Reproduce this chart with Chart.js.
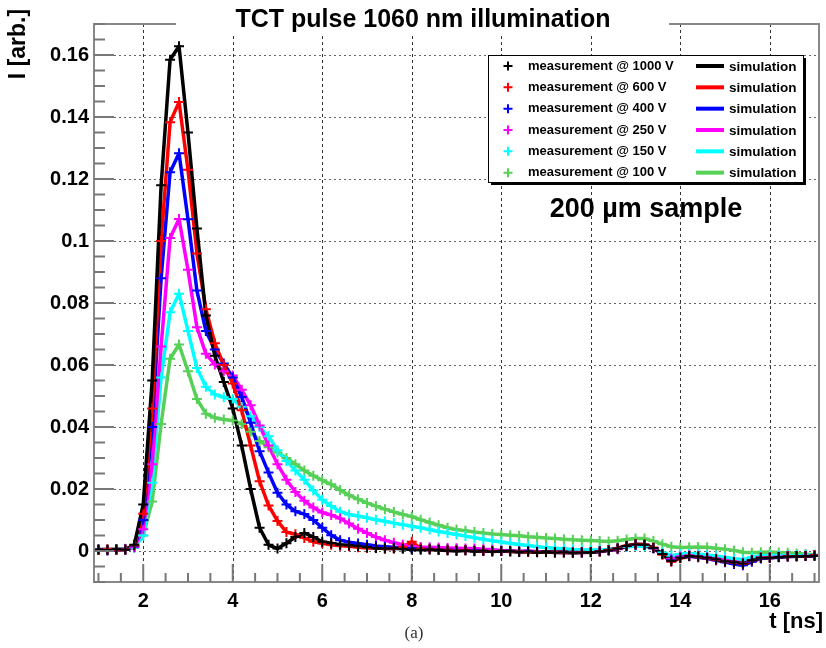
<!DOCTYPE html>
<html>
<head>
<meta charset="utf-8">
<script src="https://cdn.jsdelivr.net/npm/chart.js@4/dist/chart.umd.min.js"></script>
<style>
html,body{margin:0;padding:0;background:#fff;}
#wrap{position:relative;width:826px;height:648px;}
</style>
</head>
<body>
<div id="wrap"><canvas id="c" width="826" height="648"></canvas></div>
<script>
// ---- data ----
const times = [
  1.0,1.2,1.4,1.6,1.8, 2.0,2.2,2.4,2.6,2.8, 3.0,3.2,3.4,3.6,3.8, 4.0,4.2,4.4,4.6,4.8,
  5.0,5.2,5.4,5.6,5.8, 6.0,6.2,6.4,6.6,6.8, 7.0,7.2,7.4,7.6,7.8, 8.0,8.2,8.4,8.6,8.8,
  9.0,9.2,9.4,9.6,9.8, 10.0,10.2,10.4,10.6,10.8, 11.0,11.2,11.4,11.6,11.8, 12.0,12.2,12.4,12.6,12.8,
  13.0,13.2,13.4,13.6,13.8, 14.0,14.2,14.4,14.6,14.8, 15.0,15.2,15.4,15.6,15.8, 16.0,16.2,16.4,16.6,16.8, 17.0
];
const v1000 = [
  0.0005,0.0003,0.0006,0.0004,0.0020, 0.0150,0.0550,0.1180,0.1585,0.1628,
  0.1350,0.1040,0.0760,0.0630,0.0545, 0.0460,0.0340,0.0200,0.0075,0.0020,
  0.0008,0.0025,0.0045,0.0058,0.0045, 0.0030,0.0025,0.0020,0.0018,0.0015,
  0.0012,0.0010,0.0008,0.0009,0.0007, 0.0005,0.0004,0.0005,0.0003,0.0002,
  0.0000,0.0002,-0.0001,0.0001,-0.0002, 0.0000,-0.0001,-0.0003,-0.0002,-0.0004,
  -0.0003,-0.0005,-0.0004,-0.0006,-0.0005, -0.0004,-0.0002,0.0002,0.0008,0.0016,
  0.0021,0.0020,0.0010,-0.0010,-0.0032, -0.0022,-0.0016,-0.0018,-0.0022,-0.0027,
  -0.0033,-0.0036,-0.0040,-0.0030,-0.0022, -0.0022,-0.0019,-0.0018,-0.0017,-0.0016, -0.0015
];
const v600 = [
  0.0003,0.0006,0.0004,0.0005,0.0018, 0.0120,0.0460,0.1000,0.1383,0.1448,
  0.1230,0.0960,0.0780,0.0670,0.0600, 0.0540,0.0454,0.0340,0.0225,0.0147,
  0.0097,0.0061,0.0054,0.0042,0.0030, 0.0025,0.0020,0.0017,0.0015,0.0012,
  0.0010,0.0010,0.0008,0.0008,0.0012, 0.0030,0.0008,0.0006,0.0005,0.0004,
  0.0002,0.0003,0.0000,0.0001,-0.0001, 0.0000,-0.0002,-0.0002,-0.0003,-0.0003,
  -0.0004,-0.0004,-0.0005,-0.0005,-0.0004, -0.0003,-0.0001,0.0003,0.0009,0.0017,
  0.0022,0.0021,0.0011,-0.0012,-0.0035, -0.0023,-0.0016,-0.0019,-0.0023,-0.0028,
  -0.0034,-0.0038,-0.0042,-0.0031,-0.0022, -0.0021,-0.0019,-0.0017,-0.0017,-0.0016, -0.0014
];
const v400 = [
  0.0004,0.0002,0.0005,0.0006,0.0015, 0.0100,0.0400,0.0880,0.1222,0.1283,
  0.1070,0.0840,0.0710,0.0650,0.0605, 0.0560,0.0497,0.0414,0.0322,0.0253,
  0.0188,0.0150,0.0128,0.0119,0.0100, 0.0075,0.0051,0.0035,0.0028,0.0024,
  0.0020,0.0016,0.0014,0.0012,0.0010, 0.0010,0.0008,0.0007,0.0006,0.0005,
  0.0004,0.0003,0.0002,0.0001,0.0000, 0.0000,-0.0001,-0.0002,-0.0002,-0.0003,
  -0.0003,-0.0004,-0.0004,-0.0005,-0.0004, -0.0003,-0.0001,0.0003,0.0008,0.0016,
  0.0021,0.0020,0.0010,-0.0010,-0.0030, -0.0022,-0.0017,-0.0020,-0.0024,-0.0030,
  -0.0036,-0.0042,-0.0046,-0.0035,-0.0024, -0.0022,-0.0020,-0.0018,-0.0017,-0.0016, -0.0015
];
const v250 = [
  0.0005,0.0004,0.0003,0.0006,0.0012, 0.0070,0.0280,0.0660,0.1010,0.1071,
  0.0907,0.0722,0.0636,0.0602,0.0580, 0.0566,0.0520,0.0470,0.0405,0.0340,
  0.0280,0.0230,0.0190,0.0162,0.0140, 0.0124,0.0116,0.0105,0.0089,0.0072,
  0.0058,0.0045,0.0035,0.0027,0.0020, 0.0016,0.0013,0.0012,0.0011,0.0010,
  0.0009,0.0008,0.0008,0.0006,0.0004, 0.0002,0.0001,-0.0002,0.0000,-0.0002,
  -0.0003,-0.0004,-0.0005,-0.0004,-0.0005, -0.0003,-0.0002,0.0002,0.0006,0.0015,
  0.0020,0.0019,0.0008,-0.0010,-0.0025, -0.0018,-0.0014,-0.0017,-0.0020,-0.0025,
  -0.0030,-0.0035,-0.0038,-0.0030,-0.0020, -0.0020,-0.0018,-0.0016,-0.0016,-0.0015, -0.0014
];
const v150 = [
  0.0004,0.0006,0.0003,0.0005,0.0010, 0.0050,0.0220,0.0560,0.0770,0.0830,
  0.0710,0.0590,0.0530,0.0505,0.0496, 0.0490,0.0465,0.0435,0.0400,0.0370,
  0.0325,0.0290,0.0260,0.0230,0.0195, 0.0165,0.0145,0.0127,0.0118,0.0113,
  0.0107,0.0101,0.0096,0.0090,0.0085, 0.0080,0.0075,0.0069,0.0063,0.0058,
  0.0053,0.0048,0.0043,0.0038,0.0033, 0.0029,0.0025,0.0021,0.0018,0.0014,
  0.0011,0.0009,0.0007,0.0005,0.0004, 0.0003,0.0004,0.0005,0.0009,0.0013,
  0.0016,0.0015,0.0008,-0.0005,-0.0015, -0.0010,-0.0008,-0.0010,-0.0013,-0.0016,
  -0.0020,-0.0025,-0.0028,-0.0020,-0.0015, -0.0015,-0.0014,-0.0013,-0.0013,-0.0012, -0.0012
];
const v100 = [
  0.0004,0.0006,0.0003,0.0007,0.0018, 0.0050,0.0160,0.0410,0.0620,0.0666,
  0.0580,0.0490,0.0443,0.0430,0.0424, 0.0421,0.0410,0.0385,0.0355,0.0335,
  0.0318,0.0300,0.0280,0.0260,0.0243, 0.0228,0.0215,0.0197,0.0180,0.0167,
  0.0155,0.0145,0.0135,0.0126,0.0118, 0.0111,0.0101,0.0092,0.0083,0.0075,
  0.0069,0.0065,0.0061,0.0058,0.0055, 0.0053,0.0051,0.0049,0.0046,0.0044,
  0.0042,0.0040,0.0038,0.0036,0.0035, 0.0034,0.0032,0.0031,0.0033,0.0037,
  0.0040,0.0040,0.0032,0.0022,0.0014, 0.0011,0.0012,0.0013,0.0012,0.0009,
  0.0006,0.0002,-0.0004,-0.0006,-0.0004, -0.0003,-0.0005,-0.0006,-0.0008,-0.0010, -0.0012
];
const seriesValues = [v1000, v600, v400, v250, v150, v100];
const seriesLabels = ['measurement @ 1000 V','measurement @ 600 V','measurement @ 400 V',
                      'measurement @ 250 V','measurement @ 150 V','measurement @ 100 V'];
const simLabel = 'simulation';
const xTickValues = [2,4,6,8,10,12,14,16];
const yTickValues = [0,0.02,0.04,0.06,0.08,0.1,0.12,0.14,0.16];
const titleText = 'TCT pulse 1060 nm illumination';
const yTitle = 'I [arb.]';
const xTitle = 't [ns]';
const sampleText = '200 µm sample';
const captionText = '(a)';

// ---- styles ----
const colors = ['#000000','#ff0000','#0000ff','#ff00ff','#00ffff','#57d057'];
const FONT = '"Liberation Sans", Arial, Helvetica, sans-serif';

const datasets = [];
seriesValues.forEach((vals, k) => {
  datasets.push({
    label: seriesLabels[k],
    data: times.map((t, i) => ({x: t, y: vals[i]})),
    showLine: false,
    pointStyle: 'cross',
    pointRadius: 5,
    pointBorderWidth: 2,
    pointBorderColor: colors[k],
    pointBackgroundColor: colors[k],
    borderColor: colors[k]
  });
});
seriesValues.forEach((vals, k) => {
  datasets.push({
    label: simLabel,
    data: times.map((t, i) => ({x: t, y: vals[i]})),
    showLine: true,
    borderColor: colors[k],
    borderWidth: 3.5,
    borderJoinStyle: 'round',
    pointRadius: 0,
    tension: 0,
    fill: false
  });
});

const decor = {
  id: 'decor',
  beforeDatasetsDraw(chart) {
    const {ctx, chartArea: a, scales: {x, y}} = chart;
    ctx.save();
    ctx.lineWidth = 1;
    ctx.strokeStyle = '#333';
    ctx.setLineDash([3, 3]);
    xTickValues.forEach(v => {
      const px = Math.round(x.getPixelForValue(v)) + 0.5;
      ctx.beginPath(); ctx.moveTo(px, a.top); ctx.lineTo(px, a.bottom); ctx.stroke();
    });
    ctx.strokeStyle = '#666';
    ctx.setLineDash([2, 3]);
    yTickValues.forEach(v => {
      const py = Math.round(y.getPixelForValue(v)) + 0.5;
      ctx.beginPath(); ctx.moveTo(a.left, py); ctx.lineTo(a.right, py); ctx.stroke();
    });
    ctx.restore();
  },
  afterDatasetsDraw(chart) {
    const {ctx, chartArea: a, scales: {x, y}} = chart;
    ctx.save();
    ctx.setLineDash([]);
    ctx.strokeStyle = '#888';
    ctx.lineWidth = 2;
    ctx.beginPath();
    ctx.moveTo(a.left, a.top); ctx.lineTo(a.right, a.top); ctx.lineTo(a.right, a.bottom);
    ctx.lineTo(a.left, a.bottom); ctx.closePath(); ctx.stroke();
    ctx.strokeStyle = '#777';
    ctx.lineWidth = 2;
    for (let v = 1.0; v <= 17.001; v += 0.5) {
      const major = xTickValues.some(t => Math.abs(t - v) < 1e-6);
      const px = x.getPixelForValue(v);
      ctx.beginPath(); ctx.moveTo(px, a.bottom); ctx.lineTo(px, a.bottom - (major ? 18 : 9)); ctx.stroke();
    }
    for (let i = -2; i <= 34; i++) {
      const v = i * 0.005;
      const major = (i % 4 === 0);
      const py = y.getPixelForValue(v);
      if (py < a.top || py > a.bottom) continue;
      ctx.beginPath(); ctx.moveTo(a.left, py); ctx.lineTo(a.left + (major ? 20 : 11), py); ctx.stroke();
    }
    // title box
    ctx.fillStyle = '#fff';
    ctx.fillRect(176, 0, 493, 33);
    ctx.fillStyle = '#000';
    ctx.font = 'bold 25px ' + FONT;
    ctx.textAlign = 'center';
    ctx.textBaseline = 'middle';
    ctx.fillText(titleText, 423, 20);
    // y title
    ctx.save();
    ctx.translate(19, 44);
    ctx.rotate(-Math.PI / 2);
    ctx.font = 'bold 23px ' + FONT;
    ctx.textAlign = 'center';
    ctx.textBaseline = 'middle';
    ctx.fillText(yTitle, 0, 0);
    ctx.restore();
    // x title
    ctx.font = 'bold 22px ' + FONT;
    ctx.textAlign = 'right';
    ctx.textBaseline = 'middle';
    ctx.fillText(xTitle, 823, 622);
    // caption
    ctx.font = '17px "Liberation Serif", "Times New Roman", serif';
    ctx.fillStyle = '#333';
    ctx.textAlign = 'center';
    ctx.fillText(captionText, 414, 634);
    // sample label
    ctx.fillStyle = '#000';
    ctx.font = 'bold 27px ' + FONT;
    ctx.textAlign = 'center';
    ctx.fillText(sampleText, 646, 210);
    // legend
    const lx = 488, ly = 55, lw = 315, lh = 127;
    ctx.fillStyle = '#000';
    ctx.fillRect(lx + 3, ly + 3, lw, lh);
    ctx.fillStyle = '#fff';
    ctx.fillRect(lx, ly, lw, lh);
    ctx.strokeStyle = '#000';
    ctx.lineWidth = 1;
    ctx.strokeRect(lx + 0.5, ly + 0.5, lw, lh);
    ctx.textAlign = 'left';
    ctx.textBaseline = 'middle';
    seriesLabels.forEach((lab, k) => {
      const ry = 66 + k * 21.33;
      ctx.strokeStyle = colors[k];
      ctx.lineWidth = 2;
      ctx.beginPath();
      ctx.moveTo(508 - 4.5, ry); ctx.lineTo(508 + 4.5, ry);
      ctx.moveTo(508, ry - 4.5); ctx.lineTo(508, ry + 4.5);
      ctx.stroke();
      ctx.fillStyle = '#000';
      ctx.font = 'bold 13px ' + FONT;
      ctx.fillText(lab, 528, ry);
      ctx.lineWidth = 4;
      ctx.beginPath(); ctx.moveTo(696, ry); ctx.lineTo(724, ry); ctx.stroke();
      ctx.font = 'bold 13.5px ' + FONT;
      ctx.fillText(simLabel, 729, ry + 1);
    });
    ctx.restore();
  }
};

new Chart(document.getElementById('c'), {
  type: 'line',
  data: { datasets },
  options: {
    responsive: false,
    animation: false,
    devicePixelRatio: 1,
    layout: { padding: { top: 24, right: 3, left: 0, bottom: 0 } },
    plugins: { legend: { display: false }, tooltip: { enabled: false }, title: { display: false } },
    scales: {
      x: {
        type: 'linear', min: 0.9, max: 17.1,
        afterBuildTicks: s => { s.ticks = xTickValues.map(v => ({ value: v })); },
        afterFit: s => { s.height = 66; },
        grid: { display: false, drawTicks: false },
        border: { display: false },
        ticks: { color: '#000', padding: 7, maxRotation: 0, autoSkip: false,
                 font: { family: FONT, size: 20, weight: 'bold' } }
      },
      y: {
        type: 'linear', min: -0.01, max: 0.17,
        afterBuildTicks: s => { s.ticks = yTickValues.map(v => ({ value: v })); },
        afterFit: s => { s.width = 94; },
        grid: { display: false, drawTicks: false },
        border: { display: false },
        ticks: { color: '#000', padding: 5, autoSkip: false,
                 font: { family: FONT, size: 20, weight: 'bold' },
                 callback: v => (v === 0 ? '0' : String(+v.toFixed(2))) }
      }
    }
  },
  plugins: [decor]
});
</script>
</body>
</html>
